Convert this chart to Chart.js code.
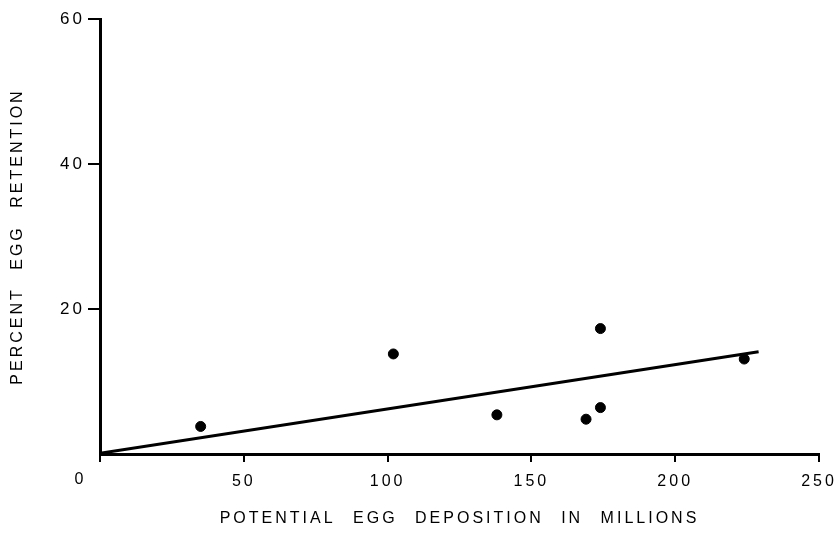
<!DOCTYPE html>
<html>
<head>
<meta charset="utf-8">
<script src="https://cdn.jsdelivr.net/npm/chart.js@4/dist/chart.umd.min.js"></script>
<style>
  html, body { margin: 0; padding: 0; background: #fff; }
  canvas { display: block; }
</style>
</head>
<body>
<canvas id="c" width="838" height="535"></canvas>
<script>
// Observed points
const depositionMillions = [35, 102, 138, 169, 174, 174, 224];
const retentionPercent   = [3.8, 13.8, 5.4, 4.8, 6.4, 17.3, 13.1];
// Fitted line end points
const fitX = [0, 229];
const fitY = [0.1, 14.1];
// Axis ticks
const xTicks = [0, 50, 100, 150, 200, 250];
const yTicks = [20, 40, 60];
const originLabel = '0';
const xTitle = 'POTENTIAL EGG DEPOSITION IN MILLIONS';
const yTitle = 'PERCENT EGG RETENTION';

const points = depositionMillions.map((x, i) => ({ x, y: retentionPercent[i] }));
const fit = fitX.map((x, i) => ({ x, y: fitY[i] }));

const FONT = "'Liberation Sans', Arial, Helvetica, sans-serif";

const spacing = {
  id: 'spacing',
  beforeDraw(chart) {
    chart.ctx.letterSpacing = '3px';
    chart.ctx.wordSpacing = '10px';
  },
  afterDraw(chart) {
    const ctx = chart.ctx;
    const xs = chart.scales.x;
    ctx.save();
    ctx.letterSpacing = '0px';
    ctx.fillStyle = '#000';
    ctx.font = '16px ' + FONT;
    ctx.textAlign = 'center';
    ctx.textBaseline = 'top';
    ctx.fillText(originLabel, xs.getPixelForValue(0) - 21, xs.top + 18);
    ctx.restore();
    ctx.letterSpacing = '0px';
    ctx.wordSpacing = '0px';
  }
};

new Chart(document.getElementById('c'), {
  type: 'scatter',
  data: {
    datasets: [
      {
        type: 'line',
        data: fit,
        borderColor: '#000',
        borderWidth: 3,
        pointRadius: 0,
        fill: false,
        tension: 0
      },
      {
        data: points,
        backgroundColor: '#000',
        borderColor: '#000',
        pointRadius: 5,
        borderWidth: 1
      }
    ]
  },
  options: {
    responsive: false,
    animation: false,
    layout: { padding: { left: 0, right: 19, top: 19, bottom: 0 } },
    plugins: { legend: { display: false }, tooltip: { enabled: false } },
    scales: {
      x: {
        type: 'linear',
        min: 0, max: 250,
        afterBuildTicks(s) { s.ticks = xTicks.map(v => ({ value: v })); },
        afterFit(s) { s.height = 81; s.paddingRight = 0; s.paddingLeft = 0; },
        grid: { drawOnChartArea: false, drawTicks: true, tickLength: 8, color: '#000', lineWidth: 2 },
        border: { display: true, color: '#000', width: 3 },
        ticks: { color: '#000', padding: 10, maxRotation: 0, font: { family: FONT, size: 16 }, callback: v => v === 0 ? '' : String(v) },
        title: { display: true, text: xTitle, color: '#000', padding: { top: 0, bottom: 7 }, font: { family: FONT, size: 16 } }
      },
      y: {
        type: 'linear',
        min: 0, max: 60,
        afterBuildTicks(s) { s.ticks = yTicks.map(v => ({ value: v })); },
        afterFit(s) { s.width = 100; s.paddingTop = 0; s.paddingBottom = 0; },
        grid: { drawOnChartArea: false, drawTicks: true, tickLength: 12, color: '#000', lineWidth: 2 },
        border: { display: true, color: '#000', width: 3 },
        ticks: { color: '#000', padding: 3, font: { family: FONT, size: 17 } },
        title: { display: true, text: yTitle, color: '#000', padding: { top: 8, bottom: 0 }, font: { family: FONT, size: 16 } }
      }
    }
  },
  plugins: [spacing]
});
</script>
</body>
</html>
